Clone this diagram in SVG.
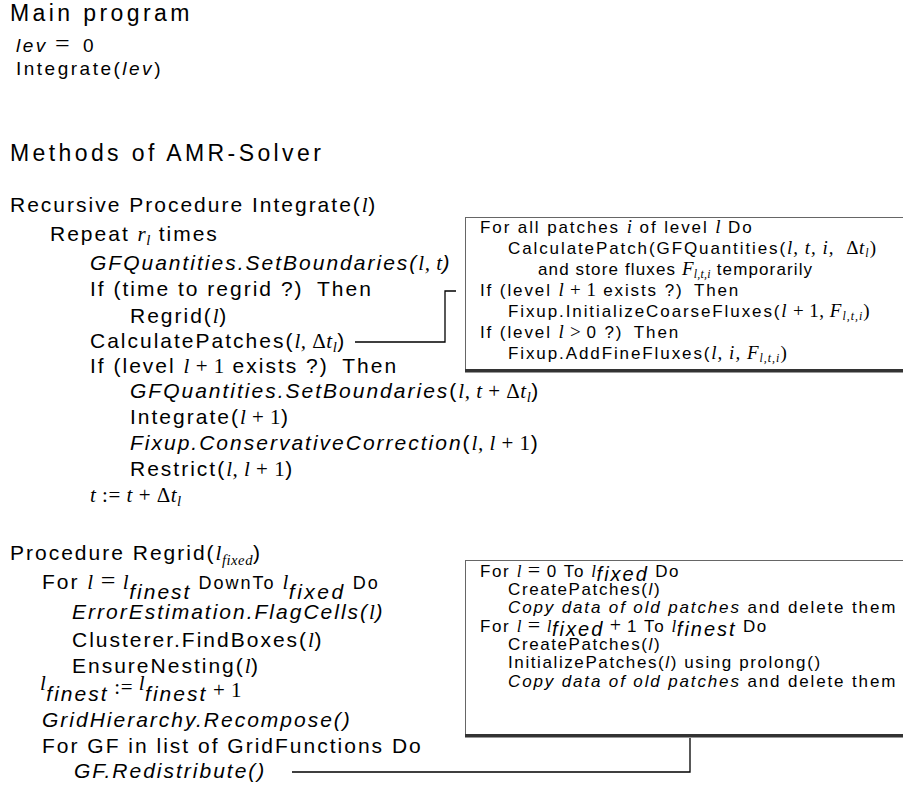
<svg xmlns="http://www.w3.org/2000/svg" width="903" height="787" viewBox="0 0 903 787">
<style>
text { font-family: "Liberation Sans", Arial, sans-serif; fill: #000; }
.h { font-size: 23px; letter-spacing: 3.4px; }
.s { font-size: 19px; letter-spacing: 2.5px; }
.t { font-size: 21px; letter-spacing: 2px; }
.b { font-size: 17px; letter-spacing: 1.9px; }
.c { font-size: 17px; letter-spacing: 1.6px; }
.m { font-family: "Liberation Serif", "Times New Roman", serif; font-style: italic; letter-spacing: 0.5px; }
.bm { font-family: "Liberation Serif", "Times New Roman", serif; font-style: italic; font-size: 19px; letter-spacing: 1px; }
.r { font-family: "Liberation Serif", "Times New Roman", serif; font-style: normal; letter-spacing: 0.5px; }
.i { font-style: italic; }
.sub { font-size: 70%; }
.box { fill: #fff; stroke: #666; stroke-width: 1; }
.shadow { fill: #333; }
.conn { fill: none; stroke: #000; stroke-width: 1.3; }
</style>

<g id="main-program">
  <text class="h" x="10" y="21">Main program</text>
  <text class="s" x="16" y="52"><tspan class="i">lev</tspan><tspan class="r" x="55" font-size="26">=</tspan><tspan x="83">0</tspan></text>
  <text class="s" x="16" y="75">Integrate(<tspan class="i">lev</tspan>)</text>
</g>

<g id="methods-title">
  <text class="h" x="10" y="161">Methods of AMR-Solver</text>
</g>

<g id="integrate-proc">
  <text class="t" x="10" y="212">Recursive Procedure Integrate(<tspan class="m">l</tspan>)</text>
  <text class="t" x="50" y="241">Repeat <tspan class="m">r</tspan><tspan class="m sub" dy="4">l</tspan><tspan dy="-4"> times</tspan></text>
  <text class="t" x="90" y="270"><tspan class="i">GFQuantities.SetBoundaries(</tspan><tspan class="m">l, t</tspan><tspan class="i">)</tspan></text>
  <text class="t" x="90" y="296">If (time to regrid ?) <tspan dx="6">Then</tspan></text>
  <text class="t" x="130" y="323">Regrid(<tspan class="m">l</tspan>)</text>
  <text class="t" x="90" y="348">CalculatePatches(<tspan class="m">l, </tspan><tspan class="r">Δ</tspan><tspan class="m">t</tspan><tspan class="m sub" dy="4">l</tspan><tspan dy="-4">)</tspan></text>
  <text class="t" x="90" y="373">If (level <tspan class="m">l</tspan><tspan class="r"> + 1</tspan> exists ?) <tspan dx="6">Then</tspan></text>
  <text class="t" x="130" y="398"><tspan class="i">GFQuantities.SetBoundaries</tspan>(<tspan class="m">l, t</tspan><tspan class="r"> + Δ</tspan><tspan class="m">t</tspan><tspan class="m sub" dy="4">l</tspan><tspan dy="-4">)</tspan></text>
  <text class="t" x="130" y="424">Integrate(<tspan class="m">l</tspan><tspan class="r"> + 1</tspan>)</text>
  <text class="t" x="130" y="450"><tspan class="i">Fixup.ConservativeCorrection</tspan>(<tspan class="m">l, l</tspan><tspan class="r"> + 1</tspan>)</text>
  <text class="t" x="130" y="476">Restrict(<tspan class="m">l, l</tspan><tspan class="r"> + 1</tspan>)</text>
  <text class="t" x="90" y="502"><tspan class="m">t</tspan><tspan class="r"> := </tspan><tspan class="m">t</tspan><tspan class="r"> + Δ</tspan><tspan class="m">t</tspan><tspan class="m sub" dy="4">l</tspan></text>
</g>

<g id="regrid-proc">
  <text class="t" x="10" y="560">Procedure Regrid(<tspan class="m">l</tspan><tspan class="m sub" dy="5">fixed</tspan><tspan dy="-5">)</tspan></text>
  <text class="t" x="42" y="589">For <tspan class="m">l</tspan><tspan class="r" font-size="26"> = </tspan><tspan class="m">l</tspan><tspan class="i" dy="10">finest</tspan><tspan font-size="18" dy="-10"> DownTo </tspan><tspan class="m">l</tspan><tspan class="i" dy="10" letter-spacing="2.5">fixed</tspan><tspan font-size="18" dy="-10"> Do</tspan></text>
  <text class="t" x="72" y="619"><tspan class="i">ErrorEstimation.FlagCells(</tspan><tspan class="m">l</tspan><tspan class="i">)</tspan></text>
  <text class="t" x="72" y="647">Clusterer.FindBoxes(<tspan class="m">l</tspan>)</text>
  <text class="t" x="72" y="673">EnsureNesting(<tspan class="m">l</tspan>)</text>
  <text class="t" x="40" y="690"><tspan class="m">l</tspan><tspan class="i" dy="11">finest</tspan><tspan class="r" dy="-7"> := </tspan><tspan class="m" dy="-4">l</tspan><tspan class="i" dy="11">finest</tspan><tspan class="r" dy="-4"> + 1</tspan></text>
  <text class="t" x="42" y="727"><tspan class="i">GridHierarchy.Recompose()</tspan></text>
  <text class="t" x="42" y="753">For GF in list of GridFunctions Do</text>
  <text class="t" x="74" y="778"><tspan class="i">GF.Redistribute()</tspan></text>
</g>

<g id="patch-box">
  <rect class="box" x="465.5" y="217.5" width="450" height="152"/>
  <rect class="shadow" x="465" y="369" width="450" height="3.5"/>
  <text class="b" x="480" y="233">For all patches <tspan class="bm">i</tspan> of level <tspan class="bm">l</tspan> Do</text>
  <text class="b" x="508" y="254">CalculatePatch(GFQuantities(<tspan class="bm">l, t, i, </tspan><tspan class="r" font-size="19" dx="6">Δ</tspan><tspan class="bm">t</tspan><tspan class="bm sub" dy="3">l</tspan><tspan class="r" font-size="19" dy="-3">)</tspan></text>
  <text class="b" x="538" y="275" textLength="276">and store fluxes <tspan class="bm">F</tspan><tspan class="bm sub" dy="3">l,t,i</tspan><tspan dy="-3"> temporarily</tspan></text>
  <text class="b" x="480" y="296">If (level <tspan class="bm">l</tspan><tspan class="r" font-size="19"> + 1</tspan> exists ?) <tspan dx="4">Then</tspan></text>
  <text class="b" x="508" y="317">Fixup.InitializeCoarseFluxes(<tspan class="bm">l</tspan><tspan class="r" font-size="19"> + 1, </tspan><tspan class="bm">F</tspan><tspan class="bm sub" dy="3">l,t,i</tspan><tspan class="r" font-size="19" dy="-3">)</tspan></text>
  <text class="b" x="480" y="338">If (level <tspan class="bm">l</tspan><tspan class="r" font-size="19"> &gt; </tspan>0 ?) <tspan dx="4">Then</tspan></text>
  <text class="b" x="508" y="359">Fixup.AddFineFluxes(<tspan class="bm">l, i, F</tspan><tspan class="bm sub" dy="3">l,t,i</tspan><tspan class="r" font-size="19" dy="-3">)</tspan></text>
</g>

<g id="regrid-box">
  <rect class="box" x="465.5" y="560.5" width="450" height="174"/>
  <rect class="shadow" x="465" y="734" width="450" height="3.5"/>
  <text class="c" x="480" y="577">For <tspan class="m">l</tspan><tspan class="r" font-size="22"> = </tspan>0 To <tspan class="m">l</tspan><tspan class="i" font-size="20" letter-spacing="2" dy="4">fixed</tspan><tspan dy="-4"> Do</tspan></text>
  <text class="c" x="508" y="595">CreatePatches(<tspan class="i">l</tspan>)</text>
  <text class="c" x="508" y="613" textLength="389"><tspan class="i">Copy data of old patches</tspan> and delete them</text>
  <text class="c" x="480" y="632">For <tspan class="m">l</tspan><tspan class="r" font-size="22"> = </tspan><tspan class="m">l</tspan><tspan class="i" font-size="20" letter-spacing="2" dy="4">fixed</tspan><tspan class="r" font-size="20" dy="-4"> + </tspan>1 To <tspan class="m">l</tspan><tspan class="i" font-size="20" letter-spacing="2" dy="4">finest</tspan><tspan dy="-4"> Do</tspan></text>
  <text class="c" x="508" y="650">CreatePatches(<tspan class="i">l</tspan>)</text>
  <text class="c" x="508" y="668">InitializePatches(<tspan class="i">l</tspan>) using prolong()</text>
  <text class="c" x="508" y="687" textLength="389"><tspan class="i">Copy data of old patches</tspan> and delete them</text>
</g>

<g id="connectors">
  <path class="conn" d="M355,342 H445 V291 H456"/>
  <path class="conn" d="M292,772 H690 V738"/>
</g>
</svg>
